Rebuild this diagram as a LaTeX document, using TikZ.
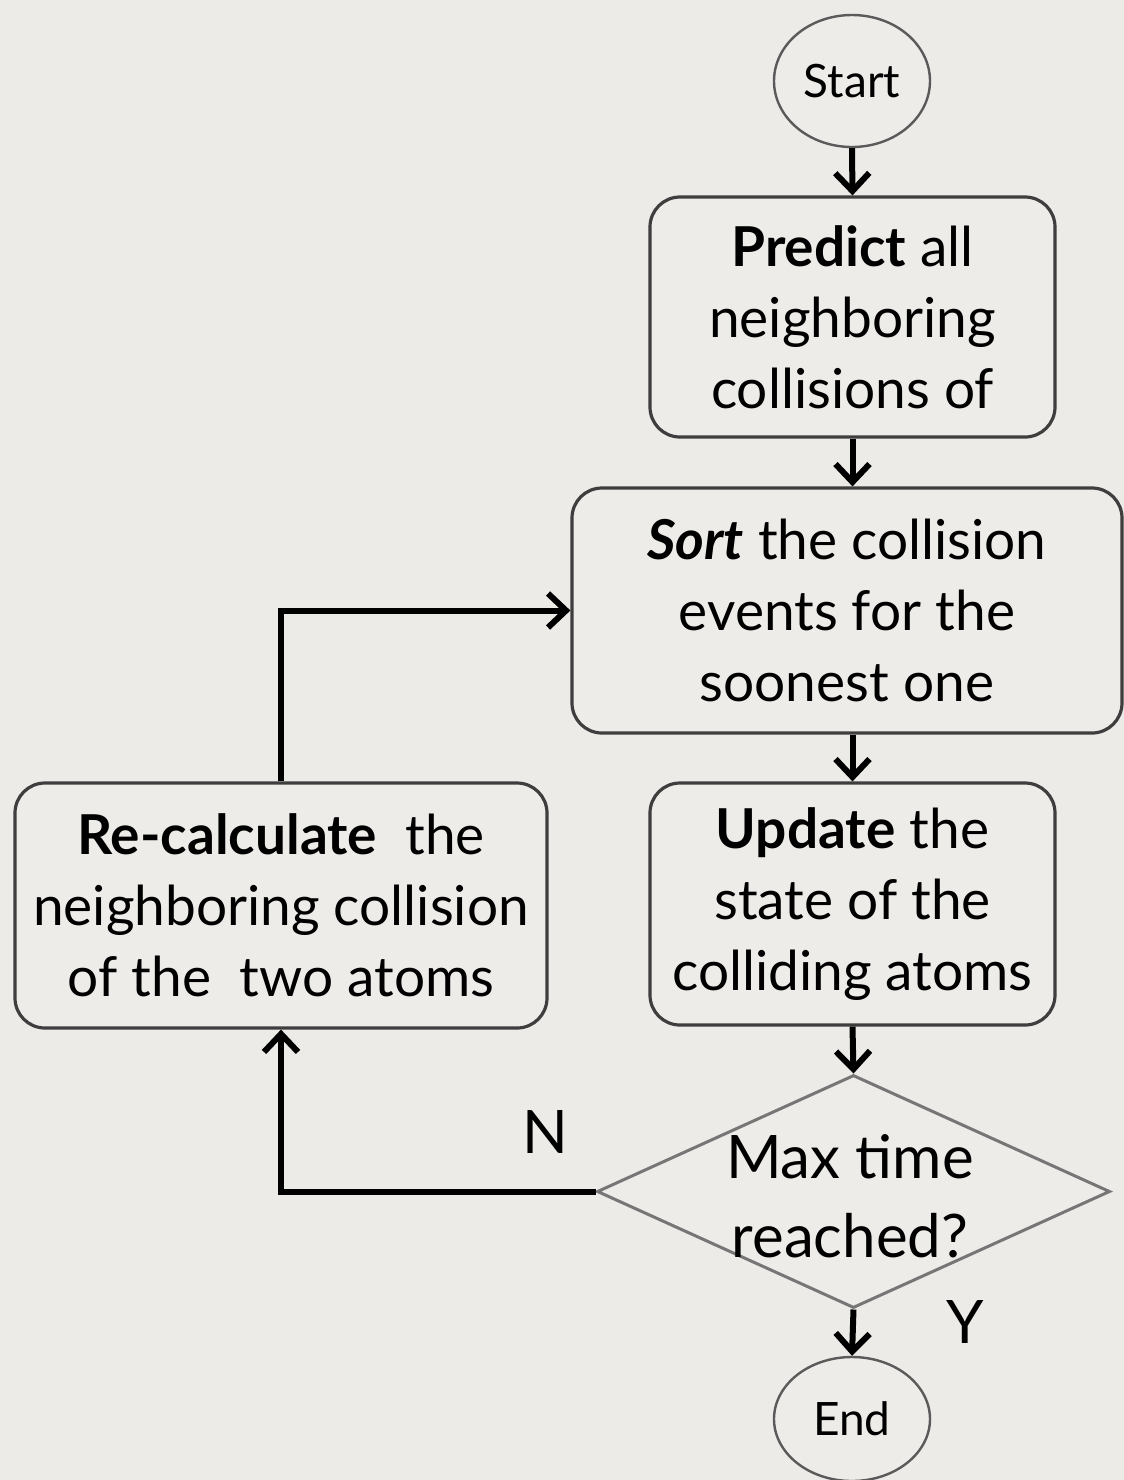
\documentclass[tikz,border=0pt]{standalone}
\usepackage{fontspec}
\setmainfont{Lato}
\usetikzlibrary{shapes.geometric,arrows.meta}
\definecolor{paper}{HTML}{EDEBE7}
\definecolor{boxfill}{HTML}{EEECE9}
\definecolor{boxline}{HTML}{3E3E3E}
\definecolor{ovalline}{HTML}{5A5A5A}
\definecolor{diamline}{HTML}{767676}
\begin{document}
\begin{tikzpicture}[x=0.5pt,y=-0.5pt,
  procbox/.style={draw=boxline,line width=1.6pt,fill=boxfill,rounded corners=15pt,
    align=center,inner sep=0pt,font=\fontsize{27.5}{35.5}\selectfont},
  oval/.style={ellipse,draw=ovalline,line width=1.2pt,fill=boxfill,inner sep=0pt,
    font=\fontsize{23}{28}\selectfont},
  flow/.style={line width=3pt,-{Straight Barb[length=9pt,width=17pt,line width=3pt]}},
  lbl/.style={font=\fontsize{30}{36}\selectfont,inner sep=0pt}]
\fill[paper] (0,0) rectangle (1124,1480);
\useasboundingbox (0,0) rectangle (1124,1480);

\node[oval,minimum width=78pt,minimum height=66pt] (start) at (852,81) {Start};
\node[procbox,minimum width=202.5pt,minimum height=120pt] (predict) at (852.5,317)
  {\textbf{Predict} all\\neighboring\\collisions of};
\node[procbox,minimum width=275pt,minimum height=122.5pt] (sort) at (847,610.5)
  {\textbf{\textit{Sort}} the collision\\events for the\\soonest one};
\node[procbox,minimum width=202.5pt,minimum height=121pt] (update) at (852.5,904)
  {\textbf{Update} the\\state of the\\colliding atoms};
\node[procbox,minimum width=266pt,minimum height=122.5pt] (recalc) at (281,905.5)
  {\textbf{Re-calculate}\ \ the\\neighboring collision\\of the\ \ two atoms};
\node[diamond,draw=diamline,line width=1.5pt,fill=boxfill,inner sep=0pt,
  minimum width=256.5pt,minimum height=116.5pt] (dec) at (853.5,1191.5) {};
\node[align=center,inner sep=0pt,font=\fontsize{30}{39.5}\selectfont] (dectext) at (850,1196)
  {Max time\\reached?};
\node[oval,minimum width=78pt,minimum height=62pt] (end) at (852,1419) {End};

\node[lbl] (nlab) at (545,1132) {N};
\node[lbl] (ylab) at (965,1322) {Y};

\draw[flow] (start.south) -- (predict.north);
\draw[flow] (predict.south) -- (predict.south |- sort.north);
\draw[flow] (update.north |- sort.south) -- (update.north);
\draw[flow] (update.south) -- (dec.north);
\draw[flow] (dec.south) -- (end.north);
\draw[flow] (dec.west) -| (recalc.south);
\draw[flow] (recalc.north) |- (sort.west);
\end{tikzpicture}
\end{document}
